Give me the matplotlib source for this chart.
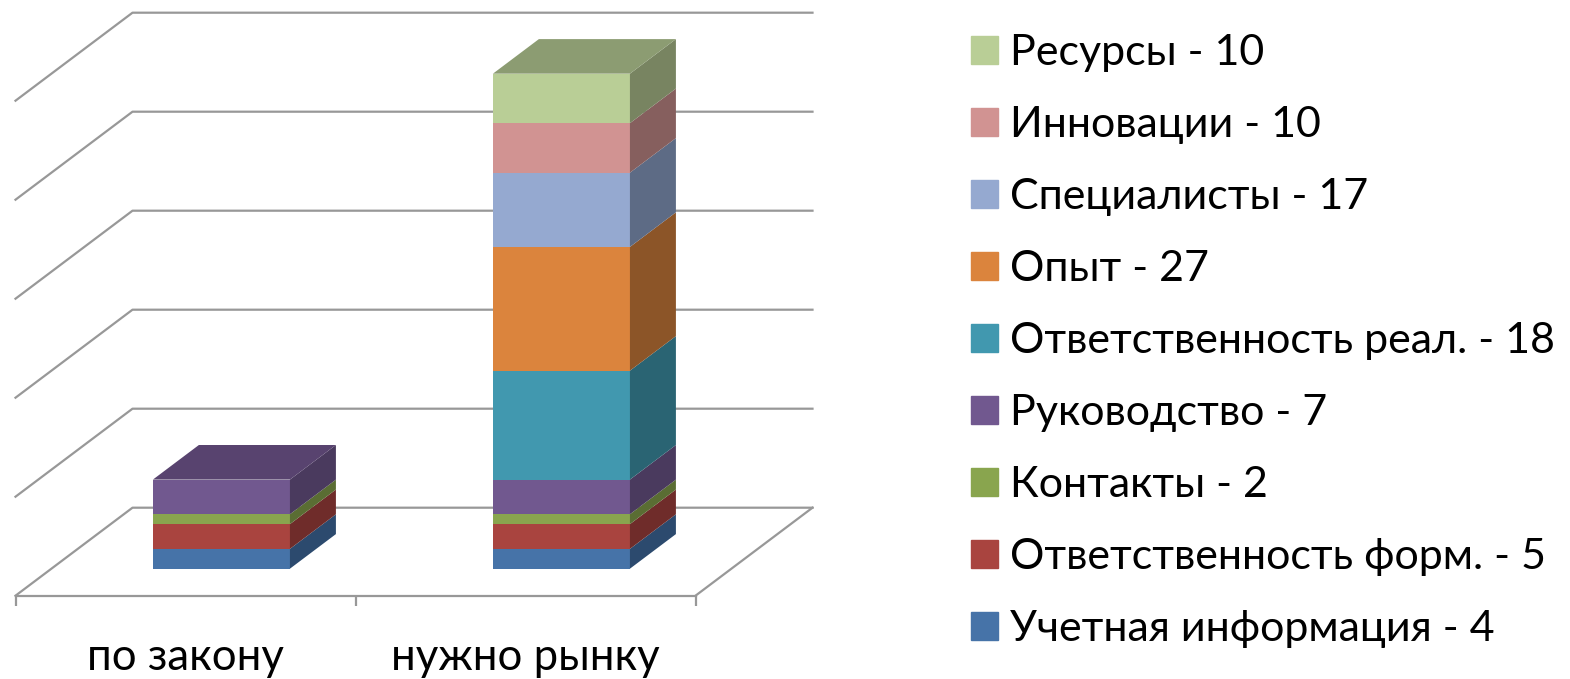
import matplotlib.pyplot as plt
from matplotlib.patches import Patch

plt.rcParams['font.family'] = ['Lato', 'Open Sans', 'DejaVu Sans']

categories = ['по закону', 'нужно рынку']
series = ['Учетная информация - 4', 'Ответственность форм. - 5', 'Контакты - 2',
          'Руководство - 7', 'Ответственность реал. - 18', 'Опыт - 27',
          'Специалисты - 17', 'Инновации - 10', 'Ресурсы - 10']
# heights as drawn in the picture, they differ a bit from the legend numbers
values_law = [4, 5, 2, 7, 0, 0, 0, 0, 0]
values_market = [4, 5, 2, 7, 22, 25, 15, 10, 10]
grid_values = [0, 20, 40, 60, 80, 100]

front_colors = ['#4673A8', '#A9443F', '#89A54E', '#71588F', '#4198AF',
                '#DB843D', '#95A9D0', '#D19392', '#B9CE96']
side_colors = ['#2C4A6E', '#6F2C2A', '#5A6D33', '#4A3A5E', '#2A6473',
               '#8C5528', '#5D6B85', '#865F5E', '#788461']
top_colors = {3: '#58436F', 8: '#8C9C72'}

# depth of the floor in data units (x shift and y shift of the back wall)
depth_x = 117 / 340
depth_y = 88 / 4.95
bar_front = 0.307
bar_back = 0.70
bar_width = 0.403

fig = plt.figure(figsize=(15.7, 6.79), dpi=100)
ax = fig.add_axes([15.5 / 1570, (679 - 595.7) / 679, 798 / 1570, 582 / 679])
ax.set_xlim(0, 798 / 340)
ax.set_ylim(0, 582 / 4.95)

grid_color = '#989898'
for v in grid_values:
    ax.plot([0, depth_x, 2 + depth_x], [v, v + depth_y, v + depth_y],
            color=grid_color, lw=1.6, zorder=1, clip_on=False)
ax.plot([2, 2 + depth_x], [0, depth_y], color=grid_color, lw=1.6, zorder=1)


def draw_stack(center, values):
    x0 = center - bar_width / 2 + bar_front * depth_x
    x1 = x0 + bar_width
    base = bar_front * depth_y
    dx = (bar_back - bar_front) * depth_x
    dy = (bar_back - bar_front) * depth_y
    bottom = 0
    last = 0
    for i, v in enumerate(values):
        if v == 0:
            continue
        ax.bar(x0, v, bar_width, bottom=base + bottom, align='edge',
               color=front_colors[i], zorder=3)
        ax.fill([x1, x1 + dx, x1 + dx, x1],
                [base + bottom, base + bottom + dy, base + bottom + v + dy, base + bottom + v],
                color=side_colors[i], lw=0, zorder=3)
        bottom += v
        last = i
    top = base + bottom
    ax.fill([x0, x0 + dx, x1 + dx, x1], [top, top + dy, top + dy, top],
            color=top_colors[last], lw=0, zorder=3)


draw_stack(0.5, values_law)
draw_stack(1.5, values_market)

for name, spine in ax.spines.items():
    spine.set_visible(name == 'bottom')
ax.spines['bottom'].set_bounds(0, 2)
ax.spines['bottom'].set_color(grid_color)
ax.spines['bottom'].set_linewidth(1.6)
ax.patch.set_visible(False)
ax.set_yticks([])
ax.set_xticks([0, 1, 2])
ax.set_xticklabels([])
ax.set_xticks([0.5, 1.5], minor=True)
ax.set_xticklabels(categories, minor=True, fontsize=31.5)
ax.tick_params(axis='x', which='major', length=7.5, width=1.6, color=grid_color)
ax.tick_params(axis='x', which='minor', length=0, pad=30)

handles = [Patch(color=c, label=s) for c, s in zip(front_colors, series)]
fig.legend(handles=handles[::-1], loc='upper left', bbox_to_anchor=(971 / 1570, 1 - 34 / 679),
           frameon=False, fontsize=31, handlelength=0.63, handleheight=0.63,
           handletextpad=0.28, labelspacing=0.789, borderpad=0, borderaxespad=0)

fig.savefig('out.png', dpi=100)
